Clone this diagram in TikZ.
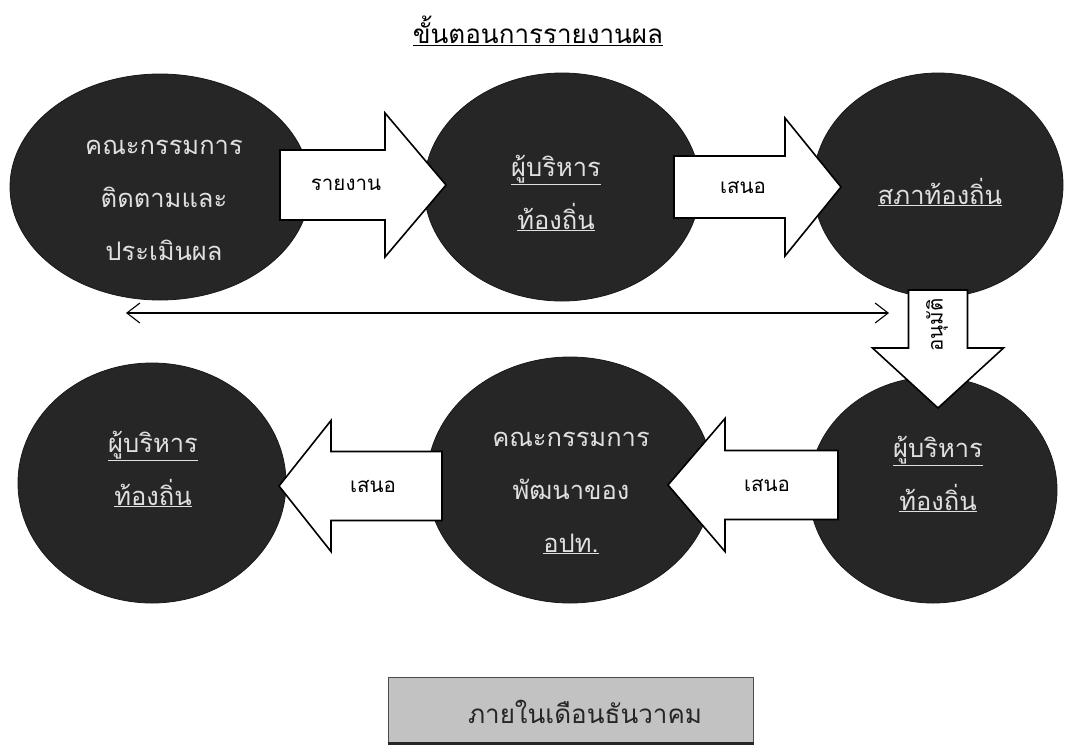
\documentclass[tikz,border=0pt]{standalone}
\usepackage{fontspec}
\newfontfamily\thaifont[Script=Thai]{Loma}
\usetikzlibrary{shapes.geometric,arrows.meta}
\begin{document}
\begin{tikzpicture}[x=1pt,y=-1pt,
  bubble/.style={ellipse, fill=black!85, draw=black!90, line width=0.8pt, inner sep=0pt},
  bubbletext/.style={text=black!12, align=center, inner sep=0pt,
     font=\thaifont\fontsize{25.5}{53}\selectfont},
  arrowbody/.style={fill=white, draw=black, line width=1.6pt, line join=miter},
  arrowtext/.style={font=\thaifont\fontsize{20.5}{24}\selectfont, text=black, inner sep=1pt},
  pics/barrow/.style n args={4}{code={
     \draw[arrowbody] (0,-#2) -- ({#1-#4},-#2) -- ({#1-#4},-#3) -- (#1,0)
        -- ({#1-#4},#3) -- ({#1-#4},#2) -- (0,#2) -- cycle;}}]
\useasboundingbox (0,0) rectangle (1066,748);
\fill[white] (0,0) rectangle (1066,748);

% title
\node[font=\thaifont\fontsize{26}{30}\selectfont] (title) at (538,31) {\underline{ขั้นตอนการรายงานผล}};

% ellipses, top row
\node[bubble, minimum width=300, minimum height=226] (e1) at (160,187) {};
\node[bubble, minimum width=276, minimum height=228] (e2) at (562,187) {};
\node[bubble, minimum width=250, minimum height=224] (e3) at (938,185) {};
% ellipses, bottom row
\node[bubble, minimum width=268, minimum height=240] (e4) at (152,483) {};
\node[bubble, minimum width=286, minimum height=246] (e5) at (570,480) {};
\node[bubble, minimum width=248, minimum height=226] (e6) at (933,490) {};

% ellipse texts
\node[bubbletext] (t1) at (164,200) {คณะกรรมการ\\ติดตามและ\\ประเมินผล};
\node[bubbletext] (t2) at (556,193) {\underline{ผู้บริหาร}\\\underline{ท้องถิ่น}};
\node[bubbletext] (t3) at (940,192) {\underline{สภาท้องถิ่น}};
\node[bubbletext] (t4) at (153,469) {\underline{ผู้บริหาร}\\\underline{ท้องถิ่น}};
\node[bubbletext] (t5) at (571,493) {คณะกรรมการ\\พัฒนาของ\\\underline{อปท.}};
\node[bubbletext] (t6) at (938,474) {\underline{ผู้บริหาร}\\\underline{ท้องถิ่น}};

% long two-headed arrow
\coordinate (dl) at (126,313);
\coordinate (dr) at (889,313);
\draw[line width=1.1pt, {Straight Barb[length=13pt,width=20pt]}-{Straight Barb[length=13pt,width=20pt]}] (dl) -- (dr);

% block arrows
\pic at (280,185) {barrow={166}{35}{72}{61}};
\node[arrowtext] (l1) at (346,185) {รายงาน};

\pic at (674,187) {barrow={167}{31}{69}{56}};
\node[arrowtext] (l2) at (743,187) {เสนอ};

\pic[rotate=-90] at (938,290) {barrow={118}{29.5}{65.5}{60}};
\node[arrowtext, rotate=90] (l3) at (937,325) {อนุมัติ};

\pic[rotate=180] at (838,485) {barrow={170}{34.5}{66.5}{57}};
\node[arrowtext] (l4) at (767,485) {เสนอ};

\pic[rotate=180] at (442,486) {barrow={163}{34.5}{65.5}{52}};
\node[arrowtext] (l5) at (373,486) {เสนอ};

% bottom box
\node[fill=black!24, draw=black!70, line width=1pt, minimum width=365, minimum height=66] (box) at (571,710) {};
\node[font=\thaifont\fontsize{26}{30}\selectfont, text=black!85] (boxtext) at (585,712) {ภายในเดือนธันวาคม};
\draw[line width=3pt, black!85] (box.south west) -- (box.south east);
\end{tikzpicture}
\end{document}
